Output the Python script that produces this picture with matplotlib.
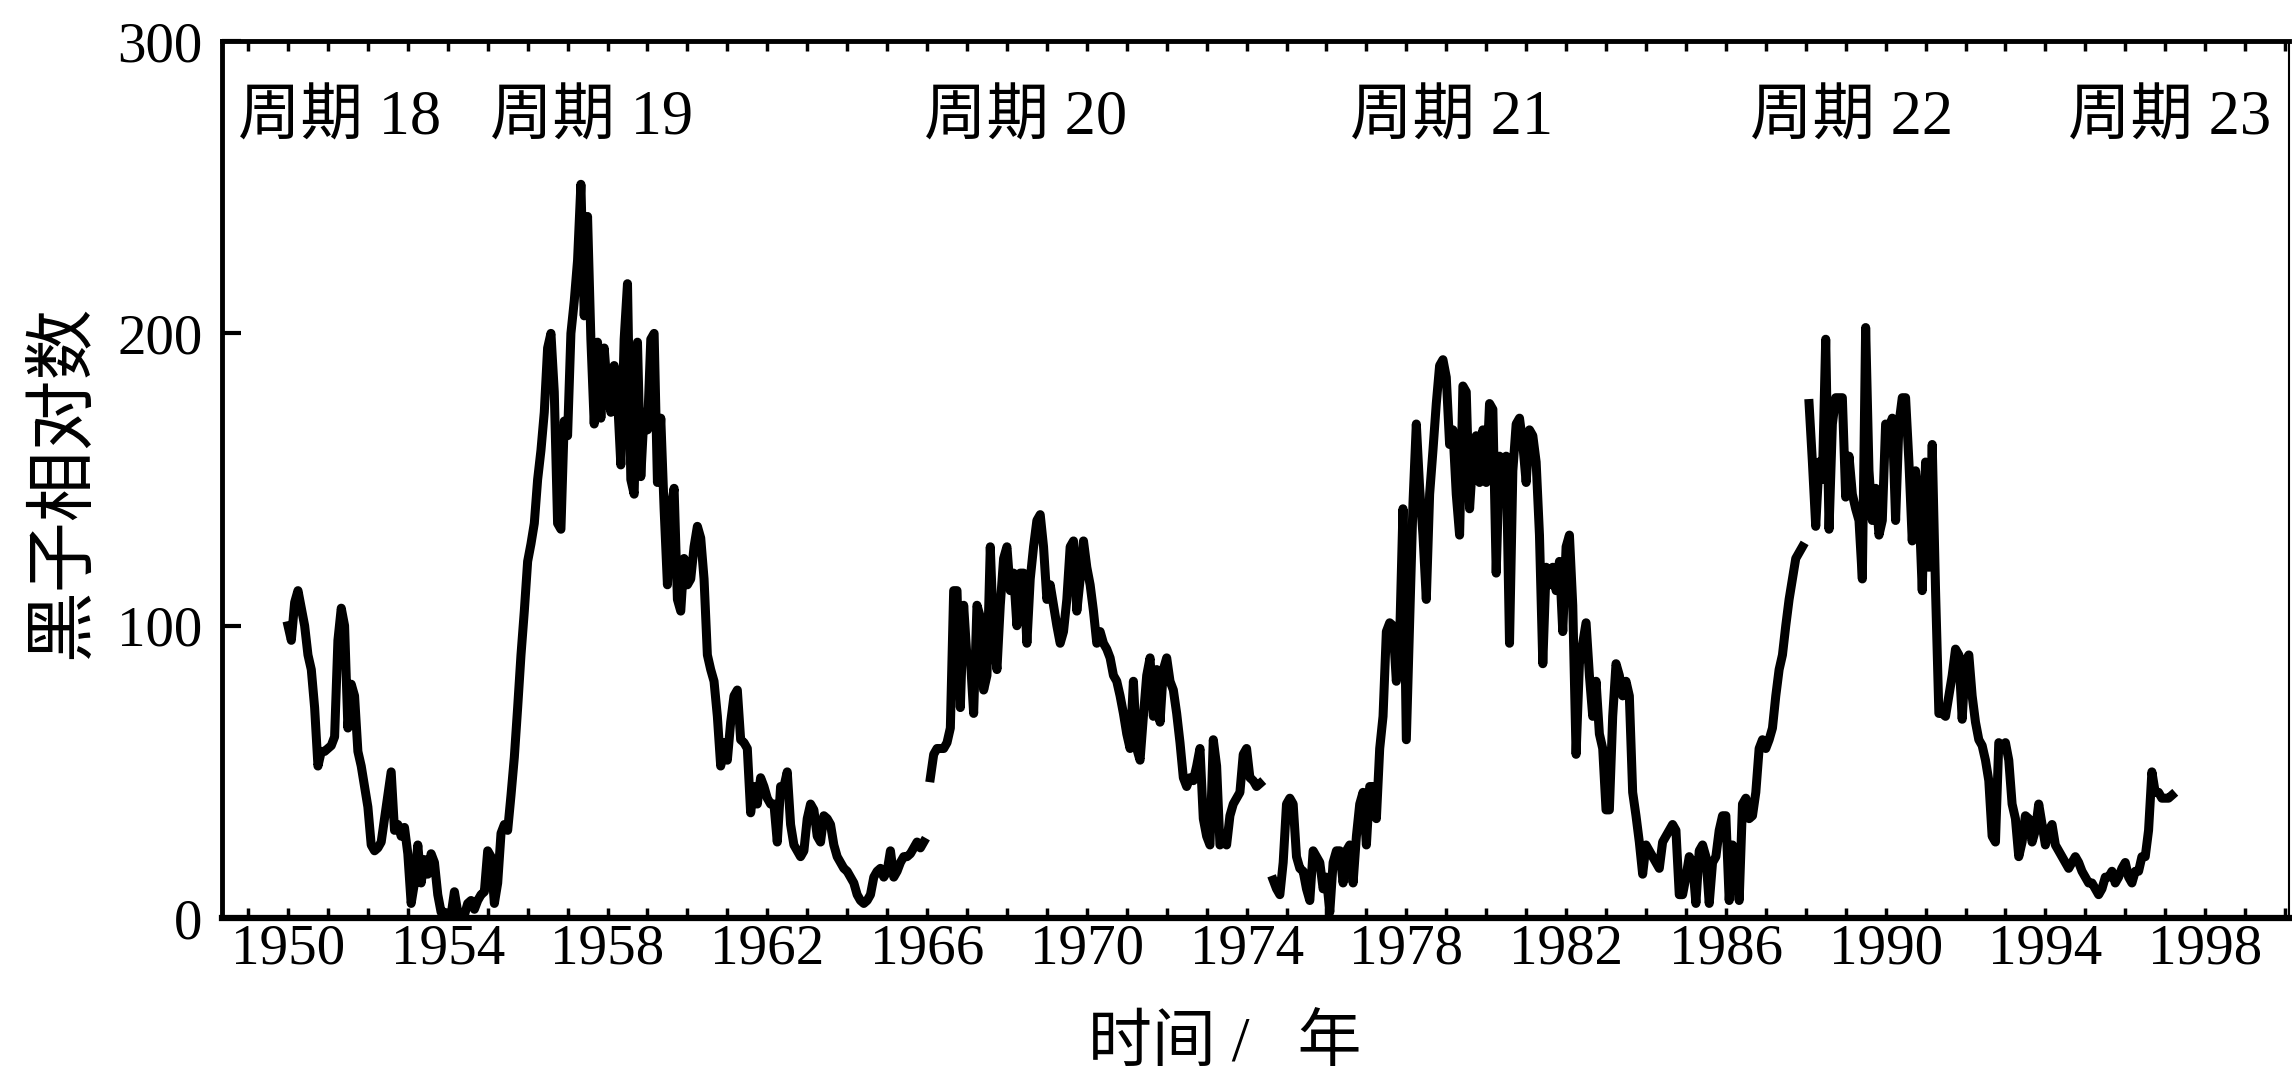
import numpy as np
import matplotlib
matplotlib.use('Agg')
import matplotlib.pyplot as plt
from matplotlib.ticker import MultipleLocator

# serif digits, CJK falls back to Noto Sans CJK
plt.rcParams['font.family'] = ['Liberation Serif', 'Noto Sans CJK SC']

start_year = 1950

# monthly relative sunspot numbers, one row per year
# (None = where the printed curve is broken)
ssn_1950s = [
    100, 95, 108, 112, 106, 100, 90, 85, 72, 52, 57, 57,
    58, 59, 62, 95, 106, 100, 65, 80, 76, 57, 52, 45,
    38, 25, 23, 24, 26, 34, 42, 50, 30, 32, 28, 31,
    22, 5, 12, 25, 12, 20, 15, 22, 19, 8, 2, 2,
    1, 1, 9, 2, 1, 1, 5, 6, 3, 6, 8, 9,
    23, 21, 5, 12, 29, 32, 30, 42, 55, 72, 90, 105,
    122, 128, 135, 150, 160, 173, 195, 200, 180, 135, 133, 170,
    165, 200, 211, 225, 251, 206, 240, 198, 169, 197, 171, 195,
    180, 173, 189, 178, 155, 198, 217, 150, 145, 197, 151, 173,
    167, 198, 200, 149, 171, 140, 114, 140, 147, 109, 105, 123,
]
ssn_1960s = [
    114, 116, 127, 134, 130, 116, 90, 85, 81, 69, 52, 60,
    54, 67, 76, 78, 61, 60, 58, 36, 45, 39, 48, 45,
    41, 39, 39, 26, 45, 45, 50, 32, 25, 23, 21, 23,
    34, 39, 37, 28, 26, 35, 34, 32, 25, 21, 19, 17,
    16, 14, 12, 8, 6, 5, 6, 8, 14, 16, 17, 14,
    16, 23, 14, 16, 19, 21, 21, 22, 24, 26, 24, 26,
    None, 48, 56, 58, 58, 58, 60, 65, 112, 112, 72, 107,
    89, 89, 70, 107, 103, 78, 83, 127, 96, 85, 107, 123,
    127, 112, 118, 100, 118, 118, 94, 116, 127, 136, 138, 127,
    109, 114, 107, 100, 94, 98, 109, 127, 129, 105, 116, 129,
]
ssn_1970s = [
    120, 114, 105, 94, 98, 94, 92, 89, 83, 81, 76, 70,
    63, 58, 81, 58, 54, 69, 83, 89, 69, 85, 67, 85,
    89, 81, 78, 70, 60, 48, 45, 48, 47, 52, 58, 34,
    28, 25, 61, 52, 25, 26, 25, 35, 39, 41, 43, 56,
    58, 48, 47, 45, 46, None, None, None, 13, 10, 8, 19,
    39, 41, 39, 21, 17, 16, 10, 6, 23, 21, 19, 10,
    14, 2, 19, 23, 23, 12, 23, 25, 12, 28, 39, 43,
    25, 45, 45, 34, 58, 69, 98, 101, 100, 81, 96, 140,
    61, 101, 142, 169, 147, 131, 109, 145, 160, 176, 189, 191,
    185, 162, 167, 145, 131, 182, 180, 140, 158, 165, 149, 167,
]
ssn_1980s = [
    149, 176, 174, 118, 158, 142, 158, 94, 153, 169, 171, 162,
    149, 167, 165, 156, 131, 87, 120, 114, 120, 112, 122, 98,
    127, 131, 107, 56, 87, 94, 101, 83, 69, 81, 63, 58,
    37, 37, 69, 87, 83, 76, 81, 76, 43, 35, 26, 15,
    25, 23, 21, 19, 17, 26, 28, 30, 32, 30, 8, 8,
    14, 21, 19, 5, 23, 25, 21, 5, 19, 21, 30, 35,
    35, 6, 25, 21, 6, 39, 41, 34, 35, 43, 58, 61,
    58, 61, 65, 76, 85, 90, 100, 109, 116, 123, 125, 127,
    None, 176, 156, 134, 156, 150, 198, 133, 169, 178, 178, 178,
    144, 158, 145, 140, 136, 116, 202, 153, 136, 147, 131, 136,
]
ssn_1990s = [
    169, 167, 171, 136, 169, 178, 178, 156, 129, 153, 142, 112,
    156, 120, 162, 112, 70, 70, 69, 76, 83, 92, 90, 68,
    88, 90, 76, 67, 61, 59, 54, 47, 28, 26, 60, 58,
    60, 54, 39, 34, 21, 26, 35, 34, 26, 30, 39, 32,
    25, 30, 32, 25, 23, 21, 19, 17, 19, 21, 19, 16,
    14, 12, 12, 10, 8, 10, 14, 14, 16, 12, 14, 17,
    19, 14, 12, 16, 16, 21, 21, 30, 50, 43, 43, 41,
    41, 41, 42,
]

cycle_labels = ['周期 18', '周期 19', '周期 20', '周期 21', '周期 22', '周期 23']
cycle_label_x = [1948.74, 1955.05, 1965.92, 1976.6, 1986.6, 1994.57]

year_ticks = list(range(1950, 1999, 4))
value_ticks = [0, 100, 200, 300]

ssn = np.array(ssn_1950s + ssn_1960s + ssn_1970s + ssn_1980s + ssn_1990s, dtype=float)
years = start_year + np.arange(len(ssn)) / 12.0

fig = plt.figure(figsize=(22.92, 10.75), dpi=100)
ax = fig.add_axes([0.0969, 0.146, 0.9018, 0.8158])

ax.plot(years, ssn, color='black', lw=6.5)

ax.set_xlim(1948.35, 2000.1)
ax.set_ylim(0, 300)

ax.set_xticks(year_ticks)
ax.xaxis.set_minor_locator(MultipleLocator(1))
ax.set_yticks(value_ticks)
ax.tick_params(axis='x', which='both', direction='in', top=True, bottom=True,
               length=7, width=2.5, labelsize=41, pad=4)
ax.tick_params(axis='y', which='both', direction='in', right=False,
               length=14, width=3, labelsize=41, pad=14)

for side, lw in [('left', 3.5), ('bottom', 4.5), ('top', 3.5), ('right', 1.5)]:
    ax.spines[side].set_linewidth(lw)
    ax.spines[side].set_color('black')

for label, xpos in zip(cycle_labels, cycle_label_x):
    ax.text(xpos, 273, label, fontsize=45, ha='left', va='center')

ax.set_xlabel('时间 /   年', fontsize=46)
ax.xaxis.set_label_coords(0.485, -0.145)
ax.xaxis.label.set_va('center')
ax.set_ylabel('黑子相对数', fontsize=51)
ax.yaxis.set_label_coords(-0.076, 0.497)
ax.yaxis.label.set_va('center')

fig.savefig('out.png', dpi=100)
